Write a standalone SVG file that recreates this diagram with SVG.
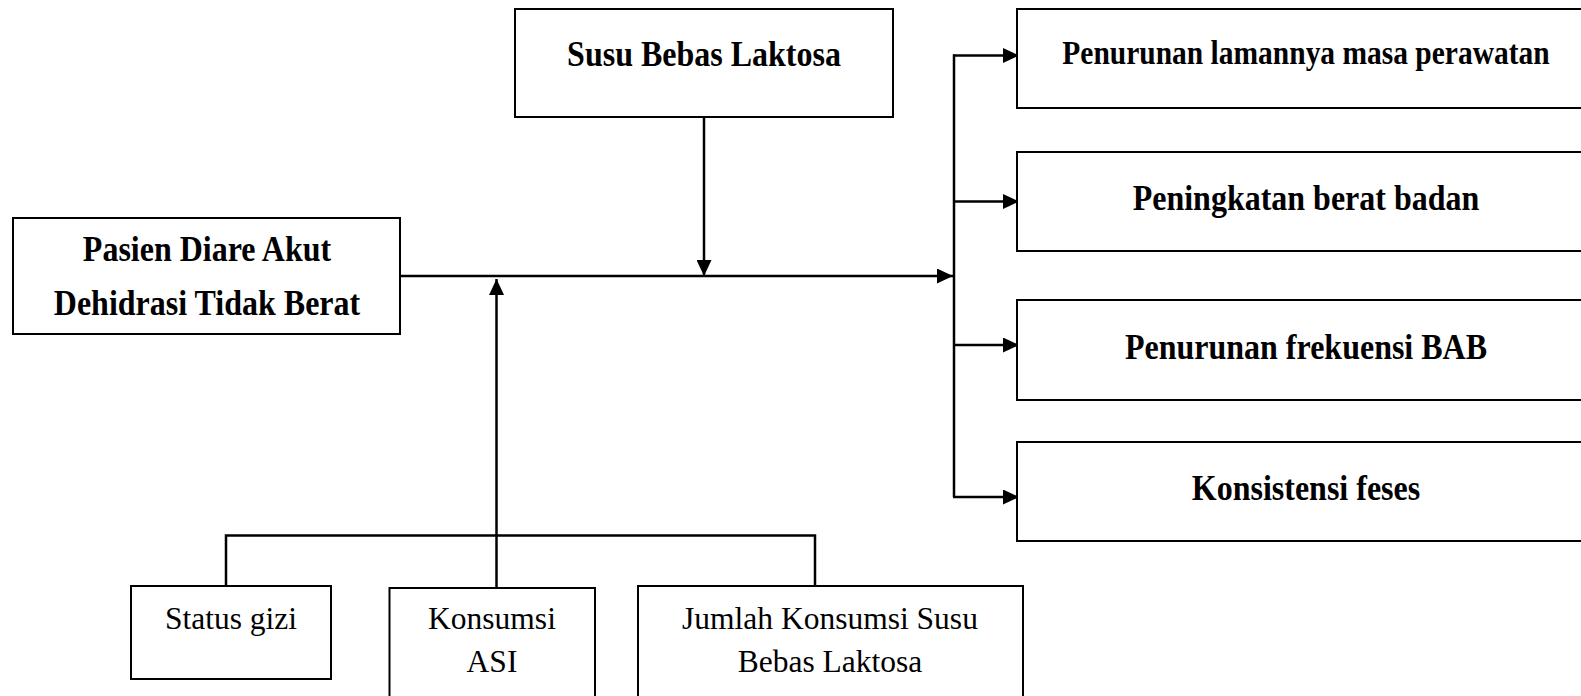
<svg xmlns="http://www.w3.org/2000/svg" width="1581" height="696" viewBox="0 0 1581 696">
<style>
.box{fill:#fff;stroke:#000;stroke-width:2}
.b{font-family:"Liberation Serif","Times New Roman",serif;font-weight:bold;font-size:32px;text-anchor:middle;fill:#000}
.r{font-family:"Liberation Serif","Times New Roman",serif;font-size:31.5px;text-anchor:middle;fill:#000}
.ln{fill:none;stroke:#000;stroke-width:2.5}
</style>
<defs>
<marker id="ah" markerUnits="userSpaceOnUse" markerWidth="16" markerHeight="15" refX="16" refY="7.5" orient="auto">
<path d="M0,0 L16,7.5 L0,15 z" fill="#000"/>
</marker>
</defs>
<rect width="1581" height="696" fill="#fff"/>
<g id="connectors">
<line class="ln" x1="400" y1="276" x2="953" y2="276" marker-end="url(#ah)"/>
<line class="ln" x1="704" y1="117" x2="704" y2="276" marker-end="url(#ah)"/>
<line class="ln" x1="496.5" y1="588" x2="496.5" y2="279" marker-end="url(#ah)"/>
<polyline class="ln" points="226,586 226,535.5 815,535.5 815,586"/>
<line class="ln" x1="954" y1="54.5" x2="954" y2="497"/>
<line class="ln" x1="953" y1="55.5" x2="1019" y2="55.5" marker-end="url(#ah)"/>
<line class="ln" x1="953" y1="201.5" x2="1019" y2="201.5" marker-end="url(#ah)"/>
<line class="ln" x1="953" y1="345" x2="1019" y2="345" marker-end="url(#ah)"/>
<line class="ln" x1="953" y1="497" x2="1019" y2="497" marker-end="url(#ah)"/>
</g>
<g id="pasien">
<rect class="box" x="13" y="218" width="387" height="116"/>
<text class="b" transform="translate(207,261) scale(1,1.12)">Pasien Diare Akut</text>
<text class="b" transform="translate(207,315) scale(1,1.12)">Dehidrasi Tidak Berat</text>
</g>
<g id="susu">
<rect class="box" x="515" y="9" width="378" height="108"/>
<text class="b" transform="translate(704,66) scale(1,1.1)">Susu Bebas Laktosa</text>
</g>
<g id="out1">
<rect class="box" x="1017" y="9" width="580" height="99"/>
<text class="b" transform="translate(1306,64) scale(1,1.15)" style="font-size:29.5px">Penurunan lamannya masa perawatan</text>
</g>
<g id="out2">
<rect class="box" x="1017" y="152" width="580" height="99"/>
<text class="b" transform="translate(1306,210) scale(1,1.12)">Peningkatan berat badan</text>
</g>
<g id="out3">
<rect class="box" x="1017" y="300" width="580" height="100"/>
<text class="b" transform="translate(1306,359) scale(1,1.12)">Penurunan frekuensi BAB</text>
</g>
<g id="out4">
<rect class="box" x="1017" y="442" width="580" height="99"/>
<text class="b" transform="translate(1306,500) scale(1,1.12)">Konsistensi feses</text>
</g>
<g id="status">
<rect class="box" x="131" y="586" width="200" height="93"/>
<text class="r" x="231" y="629">Status gizi</text>
</g>
<g id="asi">
<rect class="box" x="389.5" y="588" width="205.5" height="120"/>
<text class="r" x="492" y="629">Konsumsi</text>
<text class="r" x="492" y="672">ASI</text>
</g>
<g id="jumlah">
<rect class="box" x="638" y="586" width="385" height="120"/>
<text class="r" x="830" y="629">Jumlah Konsumsi Susu</text>
<text class="r" x="830" y="672">Bebas Laktosa</text>
</g>
</svg>
